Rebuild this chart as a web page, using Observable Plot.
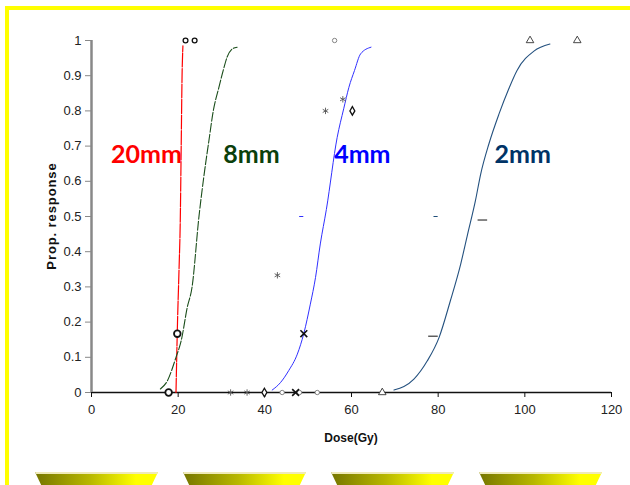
<!DOCTYPE html>
<html>
<head>
<meta charset="utf-8">
<script src="https://cdn.jsdelivr.net/npm/d3@7"></script>
<script src="https://cdn.jsdelivr.net/npm/@observablehq/plot@0.6"></script>
<style>
  html, body { margin: 0; padding: 0; background: #fff; }
  #wrap { position: relative; width: 630px; height: 485px; overflow: hidden; background: #fff; }
  #chart { position: absolute; left: 0; top: 0; }
  .yb { position: absolute; background: #ffff00; }
  .trap { position: absolute; top: 472px; width: 123px; height: 13px;
    clip-path: polygon(0 0, 100% 0, 95% 100%, 5% 100%);
    background: linear-gradient(to bottom, #efeab8 0, #efeab8 1.5px, transparent 1.5px),
                linear-gradient(to right, #767600 0%, #b8b800 45%, #ffff00 82%, #ffff00 100%); }
  .ttl { position: absolute; font-family: "Liberation Sans", Arial, sans-serif; font-weight: bold; color: #111; white-space: nowrap; }
</style>
</head>
<body>
<div id="wrap">
  <div id="chart"></div>
  <div class="yb" style="left:5px;top:6px;width:625px;height:4px"></div>
  <div class="yb" style="left:5px;top:6px;width:4px;height:479px"></div>
  <div class="trap" style="left:35px"></div>
  <div class="trap" style="left:183px"></div>
  <div class="trap" style="left:331px"></div>
  <div class="trap" style="left:479px"></div>
  <div class="ttl" id="ylab" style="left:51px;top:216px;font-size:13px;letter-spacing:0.9px;transform:translate(-50%,-50%) rotate(-90deg)">Prop. response</div>
  <div class="ttl" id="xlab" style="left:351px;top:438px;font-size:12px;transform:translate(-50%,-50%)">Dose(Gy)</div>
</div>
<script>
// ---- data ----
const xTicks = [0, 20, 40, 60, 80, 100, 120];
const yTicks = [0, 0.1, 0.2, 0.3, 0.4, 0.5, 0.6, 0.7, 0.8, 0.9, 1];

// fitted curves (dose, proportion)
const curve20Dose = [19.5, 19.85, 20.2, 20.5, 20.7, 20.9, 21.1];
const curve20Prop = [0, 0.2, 0.35, 0.5, 0.7, 0.9, 0.985];

const curve8Dose = [15.9, 17.5, 19.5, 20.7, 22.1, 23.2, 24.8, 25.9, 27.1, 28.1, 29.4, 30.4, 31.3, 32.5, 33.6];
const curve8Prop = [0.01, 0.033, 0.1, 0.147, 0.242, 0.299, 0.5, 0.611, 0.716, 0.8, 0.867, 0.915, 0.953, 0.976, 0.981];

const curve4Dose = [41.7, 43.6, 45.5, 47.5, 49.0, 50.5, 51.7, 52.8, 54.2, 56.7, 58.2, 59.4, 60.7, 62.1, 64.5];
const curve4Prop = [0.007, 0.028, 0.062, 0.109, 0.168, 0.251, 0.327, 0.422, 0.52, 0.725, 0.806, 0.867, 0.915, 0.962, 0.981];

const curve2Dose = [69.8, 74.4, 77.5, 80.2, 82.8, 85.2, 86.8, 88.6, 89.8, 91.7, 94.0, 96.3, 98.2, 102.1, 105.8];
const curve2Prop = [0.007, 0.038, 0.09, 0.156, 0.26, 0.365, 0.45, 0.545, 0.62, 0.706, 0.79, 0.863, 0.915, 0.97, 0.99];

// observed points
const boldCircleDose = [17.8, 19.8];
const boldCircleProp = [0, 0.167];
const topCircleDose = [21.7, 23.8];
const topCircleProp = [1, 1];
const lightCircleDose = [44, 48, 52.1, 56.1];
const lightCircleProp = [0, 0, 0, 1];
const asteriskDose = [32.1, 35.9, 42.9, 54, 58];
const asteriskProp = [0, 0, 0.333, 0.8, 0.833];
const timesDose = [47.1, 49];
const timesProp = [0, 0.167];
const diamondDose = [39.9, 60.2];
const diamondProp = [0, 0.8];
const triangleDose = [67.1, 101.2, 112.1];
const triangleProp = [0, 1, 1];
const dashDose = [78.8, 90.2];
const dashProp = [0.16, 0.49];
const smallDashDose = [48.4, 79.4];
const smallDashProp = [0.5, 0.5];
const smallDashColor = ["#3030ff", "#1f4e79"];

const labelNames = ["20mm", "8mm", "4mm", "2mm"];
const labelDose = [12.7, 36.9, 62.5, 99.5];
const labelProp = [0.676, 0.676, 0.676, 0.676];
const labelColors = ["#ff0000", "#0b400b", "#0000ff", "#003366"];

// ---- build tables ----
const zipXY = (xs, ys) => xs.map((x, i) => ({x, y: ys[i]}));
const c20 = zipXY(curve20Dose, curve20Prop);
const c8 = zipXY(curve8Dose, curve8Prop);
const c4 = zipXY(curve4Dose, curve4Prop);
const c2 = zipXY(curve2Dose, curve2Prop);
const labels = labelNames.map((t, i) => ({t, x: labelDose[i], y: labelProp[i], c: labelColors[i]}));
const smallDashes = smallDashDose.map((x, i) => ({x, y: smallDashProp[i], c: smallDashColor[i]}));

const dashSymbol = {
  draw(ctx, size) {
    const w = Math.sqrt(size) * 0.9;
    ctx.moveTo(-w, 0); ctx.lineTo(w, 0);
  }
};

const chart = Plot.plot({
  width: 630,
  height: 485,
  marginLeft: 91,
  marginRight: 19,
  marginTop: 40,
  marginBottom: 93,
  style: {fontFamily: "'Liberation Sans', Arial, sans-serif", fontSize: "13px", color: "#222", background: "transparent"},
  x: {domain: [0, 120]},
  y: {domain: [0, 1]},
  marks: [
    Plot.axisX({ticks: xTicks, tickSize: 5, tickPadding: 7, fontSize: 13, label: null, stroke: "#111"}),
    Plot.axisY({ticks: yTicks, tickSize: 6, tickPadding: 4, fontSize: 13, label: null, stroke: "#888",
      tickFormat: d => String(+d.toFixed(1))}),
    Plot.ruleY([0], {stroke: "#111", strokeWidth: 1.3}),
    Plot.ruleX([0], {stroke: "#888", strokeWidth: 2.5}),
    Plot.line(c20, {x: "x", y: "y", stroke: "#ff0000", strokeWidth: 1.2, curve: "monotone-x", strokeDasharray: "14,1.5"}),
    Plot.line(c8, {x: "x", y: "y", stroke: "#1a4d1a", strokeWidth: 1.1, curve: "monotone-x", strokeDasharray: "9,2"}),
    Plot.line(c4, {x: "x", y: "y", stroke: "#3030ff", strokeWidth: 1, curve: "monotone-x"}),
    Plot.line(c2, {x: "x", y: "y", stroke: "#24517f", strokeWidth: 1.1, curve: "monotone-x"}),
    Plot.text(labels, {x: "x", y: "y", text: "t", fill: "c", fontSize: 25, fontWeight: "bold", fontFamily: "Lato, 'Open Sans', sans-serif"}),
    Plot.dot(zipXY(boldCircleDose, boldCircleProp), {x: "x", y: "y", symbol: "circle", r: 3.3, stroke: "#111", strokeWidth: 1.8, fill: "white"}),
    Plot.dot(zipXY(topCircleDose, topCircleProp), {x: "x", y: "y", symbol: "circle", r: 2.4, stroke: "#111", strokeWidth: 1.3, fill: "white"}),
    Plot.dot(zipXY(lightCircleDose, lightCircleProp), {x: "x", y: "y", symbol: "circle", r: 2.2, stroke: "#777", strokeWidth: 0.9, fill: "white"}),
    Plot.dot(zipXY(asteriskDose, asteriskProp), {x: "x", y: "y", symbol: "asterisk", r: 3, stroke: "#555", strokeWidth: 0.9}),
    Plot.dot(zipXY(timesDose, timesProp), {x: "x", y: "y", symbol: "times", r: 3.2, stroke: "#111", strokeWidth: 1.6}),
    Plot.dot(zipXY(diamondDose, diamondProp), {x: "x", y: "y", symbol: "diamond", r: 2.6, stroke: "#111", strokeWidth: 1.3, fill: "white"}),
    Plot.dot(zipXY(triangleDose, triangleProp), {x: "x", y: "y", symbol: "triangle", r: 2.8, stroke: "#333", strokeWidth: 0.9, fill: "white"}),
    Plot.dot(zipXY(dashDose, dashProp), {x: "x", y: "y", symbol: dashSymbol, r: 3, stroke: "#111", strokeWidth: 1}),
    Plot.dot(smallDashes, {x: "x", y: "y", symbol: dashSymbol, r: 1.3, stroke: "c", strokeWidth: 1})
  ]
});
document.getElementById("chart").appendChild(chart);
</script>
</body>
</html>
